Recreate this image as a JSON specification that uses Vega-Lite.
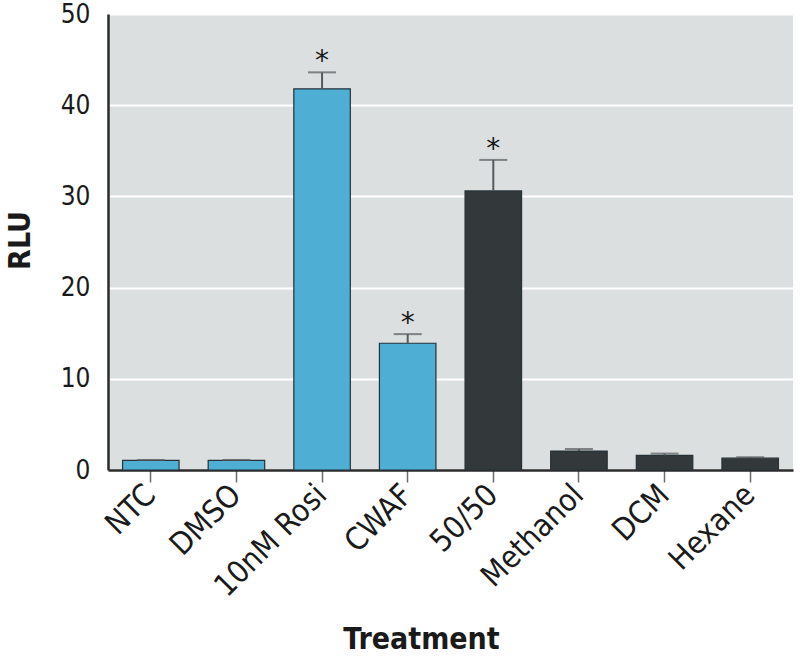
{
  "$schema": "https://vega.github.io/schema/vega-lite/v6.json",
  "width": 685,
  "height": 456,
  "autosize": "none",
  "padding": {"left": 108, "top": 14, "right": 7, "bottom": 188},
  "background": "white",
  "data": {
    "values": [
      {"treatment": "NTC", "value": 1.05, "err": 1.1, "group": "blue", "sig": ""},
      {"treatment": "DMSO", "value": 1.05, "err": 1.1, "group": "blue", "sig": ""},
      {"treatment": "10nM Rosi", "value": 41.8, "err": 43.6, "group": "blue", "sig": "*"},
      {"treatment": "CWAF", "value": 13.9, "err": 14.9, "group": "blue", "sig": "*"},
      {"treatment": "50/50", "value": 30.6, "err": 34.0, "group": "dark", "sig": "*"},
      {"treatment": "Methanol", "value": 2.08, "err": 2.3, "group": "dark", "sig": ""},
      {"treatment": "DCM", "value": 1.6, "err": 1.8, "group": "dark", "sig": ""},
      {"treatment": "Hexane", "value": 1.3, "err": 1.4, "group": "dark", "sig": ""}
    ]
  },
  "encoding": {
    "x": {
      "field": "treatment",
      "type": "nominal",
      "sort": null,
      "scale": {"paddingInner": 0.34, "paddingOuter": 0.17},
      "axis": {
        "title": "Treatment",
        "titleFont": "DejaVu Sans Condensed",
        "titleFontSize": 30,
        "titleFontWeight": "bold",
        "titleColor": "#1a1a1a",
        "titleX": 313,
        "titleY": 178,
        "titleBaseline": "alphabetic",
        "titleAlign": "center",
        "labelAngle": -45,
        "labelAlign": "right",
        "labelBaseline": "middle",
        "labelFont": "DejaVu Sans Condensed",
        "labelFontSize": 31,
        "labelColor": "#1a1a1a",
        "labelPadding": 8,
        "domainColor": "#2b2b2b",
        "domainWidth": 2.5,
        "tickColor": "#6b6b6b",
        "tickSize": 12,
        "tickWidth": 1.5
      }
    }
  },
  "layer": [
    {
      "mark": {"type": "bar", "stroke": "#263238", "strokeWidth": 1.2},
      "encoding": {
        "y": {
          "field": "value",
          "type": "quantitative",
          "scale": {"domain": [0, 50], "nice": false},
          "axis": {
            "title": "RLU",
            "titleFont": "DejaVu Sans Condensed",
            "titleFontSize": 30,
            "titleFontWeight": "bold",
            "titleColor": "#1a1a1a",
            "titleX": -79,
            "titleY": 226,
            "titleBaseline": "alphabetic",
            "titleAlign": "center",
            "values": [0, 10, 20, 30, 40, 50],
            "labelFont": "DejaVu Sans Condensed",
            "labelFontSize": 26,
            "labelColor": "#1a1a1a",
            "labelPadding": 18,
            "ticks": false,
            "domainColor": "#2b2b2b",
            "domainWidth": 2.5,
            "grid": true,
            "gridColor": "white",
            "gridWidth": 2
          }
        },
        "color": {
          "field": "group",
          "type": "nominal",
          "scale": {"domain": ["blue", "dark"], "range": ["#4FAED3", "#33383A"]},
          "legend": null
        }
      }
    },
    {
      "mark": {"type": "rule", "color": "#555a5c", "strokeWidth": 2},
      "encoding": {
        "y": {"field": "value", "type": "quantitative"},
        "y2": {"field": "err"}
      }
    },
    {
      "mark": {"type": "tick", "color": "#555a5c", "thickness": 2, "size": 28},
      "encoding": {
        "y": {"field": "err", "type": "quantitative"}
      }
    },
    {
      "mark": {"type": "text", "font": "DejaVu Sans", "fontSize": 28, "color": "#1a1a1a", "baseline": "alphabetic", "dy": -2},
      "encoding": {
        "y": {"field": "err", "type": "quantitative"},
        "text": {"field": "sig"}
      }
    }
  ],
  "config": {
    "view": {"fill": "#DCDFE0", "stroke": null}
  }
}
